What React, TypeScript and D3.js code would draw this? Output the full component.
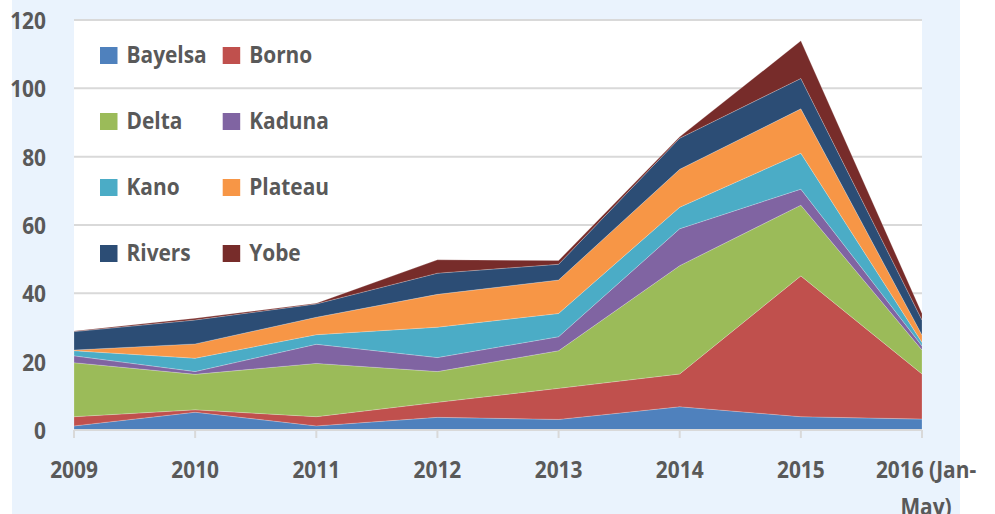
import React from "react";
import * as d3 from "d3";

const years = ["2009", "2010", "2011", "2012", "2013", "2014", "2015", "2016 (Jan-|May)"];
const states = ["Bayelsa", "Borno", "Delta", "Kaduna", "Kano", "Plateau", "Rivers", "Yobe"];
const colors = ["#4F81BD", "#C0504D", "#9BBB59", "#8064A2", "#4BACC6", "#F79646", "#2C4D75", "#772C2A"];

const bayelsa = [1.2, 5.2, 1.2, 3.7, 3.1, 6.8, 3.9, 3.2];
const borno = [2.7, 0.7, 2.7, 4.4, 9.1, 9.6, 41.2, 13.2];
const delta = [15.8, 10.4, 15.6, 9.0, 11.0, 31.7, 20.7, 7.0];
const kaduna = [2.0, 0.8, 5.6, 4.1, 4.1, 10.8, 4.7, 1.2];
const kano = [1.5, 3.9, 2.8, 8.9, 6.8, 6.3, 10.5, 1.0];
const plateau = [0.2, 4.2, 5.1, 9.6, 9.8, 11.1, 13.0, 2.2];
const rivers = [5.4, 7.0, 3.9, 6.2, 4.6, 9.1, 8.9, 4.4];
const yobe = [0.2, 0.5, 0.2, 3.9, 1.1, 0.4, 11.0, 1.9];

const yTicks = [0, 20, 40, 60, 80, 100, 120];

const seriesValues = [bayelsa, borno, delta, kaduna, kano, plateau, rivers, yobe];

const SX = 0.87;

function Label(props: { x: number; y: number; anchor?: string; children: any; sx?: number }) {
  const s = props.sx ?? SX;
  return (
    <text
      transform={`translate(${props.x},${props.y}) scale(${s},1)`}
      textAnchor={props.anchor ?? "start"}
      fontSize={24}
      fontWeight="bold"
      fill="#595959"
    >
      {props.children}
    </text>
  );
}

export default function App() {
  const W = 995, H = 514;
  const left = 74, right = 922, top = 20, bottom = 430;
  const x = d3.scalePoint<string>().domain(years).range([left, right]);
  const y = d3.scaleLinear().domain([0, 120]).range([bottom, top]);

  const rows = years.map((yr, i) => {
    const r: any = { year: yr };
    states.forEach((s, k) => (r[s] = seriesValues[k][i]));
    return r;
  });
  const stacked = d3.stack<any>().keys(states)(rows);
  const area = d3
    .area<any>()
    .x((d) => x(d.data.year) as number)
    .y0((d) => y(d[0]))
    .y1((d) => y(d[1]));

  const font = "'Open Sans', 'Noto Sans', sans-serif";

  return (
    <svg width={W} height={H} style={{ position: "absolute", left: 0, top: 0 }} fontFamily={font}>
      <rect x={12} y={0} width={948} height={H} fill="#EAF3FD" />
      <rect x={left} y={top - 1} width={right - left} height={bottom - top + 1} fill="#FFFFFF" />
      {yTicks.filter((t) => t > 0).map((t) => (
        <line key={t} x1={left} x2={right} y1={y(t)} y2={y(t)} stroke="#D9D9D9" strokeWidth={2} />
      ))}
      {stacked.map((s, k) => (
        <path key={states[k]} d={area(s) as string} fill={colors[k]} stroke="rgba(255,255,255,0.35)" strokeWidth={0.6} />
      ))}
      <line x1={left} x2={right} y1={bottom} y2={bottom} stroke="#D9D9D9" strokeWidth={2} />
      {years.map((yr) => (
        <line key={yr} x1={x(yr)} x2={x(yr)} y1={bottom} y2={bottom + 8} stroke="#D9D9D9" strokeWidth={2} />
      ))}
      {yTicks.map((t) => (
        <Label key={t} x={46} y={y(t) + 9} anchor="end">
          {t}
        </Label>
      ))}
      {years.map((yr, i) => {
        const parts = yr.split("|");
        const cx = (x(yr) as number) + (i === years.length - 1 ? 4 : 0);
        return parts.map((p, j) => (
          <Label key={yr + j} x={cx} y={478 + j * 37} anchor="middle">
            {p}
          </Label>
        ));
      })}
      {states.map((s, k) => {
        const col = k % 2;
        const row = Math.floor(k / 2);
        const sx = col === 0 ? 100 : 222.7;
        const by = 63 + row * 66;
        return (
          <g key={s}>
            <rect x={sx} y={by - 16} width={17.5} height={17} fill={colors[k]} />
            <Label x={sx + 26.5} y={by}>
              {s}
            </Label>
          </g>
        );
      })}
    </svg>
  );
}
